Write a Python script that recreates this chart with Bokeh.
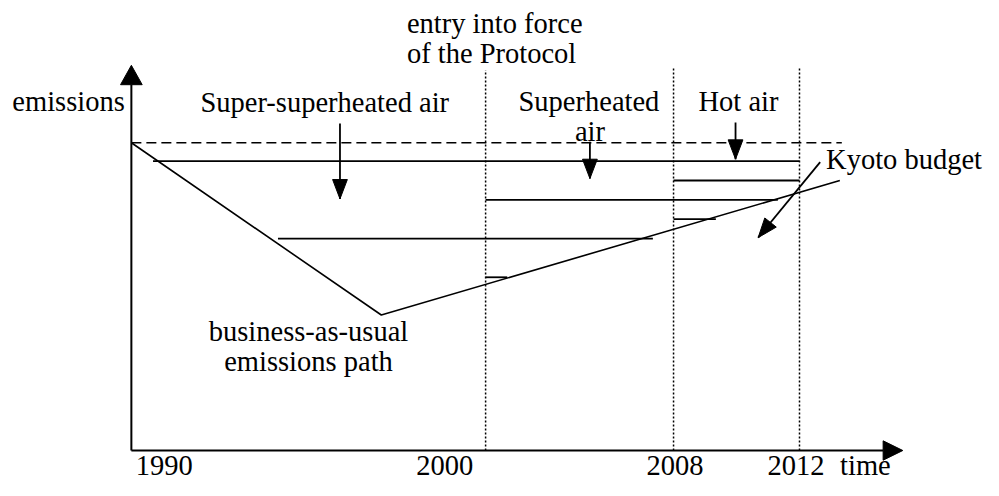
import numpy as np
from bokeh.plotting import figure
from bokeh.models import Range1d, ColumnDataSource
from bokeh.core.properties import value
from bokeh.embed import file_html
from bokeh.resources import INLINE

# ---- schematic data (x: position right of the emissions axis, y: emissions level above time axis)
base_level = 318                      # 1990 emissions level (dashed reference)
base_end = 722
period_labels = ["1990", "2000", "2008", "2012"]
label_x = [33.5, 318.5, 552.5, 675.5]
label_y = -15
boundary_x = [360, 551, 679]          # 2000 (entry into force), 2008, 2012
boundary_top = [393, 396, 396]

bau_x = [0, 254, 720]                 # business-as-usual emissions path
bau_y = [318, 140, 279]

budget_y = [299, 279, 259, 239, 219, 179]       # Kyoto budget staircase
budget_x0 = [22, 551, 360, 551, 149, 360]
budget_x1 = [679, 679, 657, 594, 530, 382]

arrow_x0 = [212, 466, 614, 700]
arrow_y0 = [338, 319, 339, 298]
arrow_x1 = [212, 466, 614, 637]
arrow_y1 = [260, 281, 301, 220]

axis_len_y, axis_tip_y = 378, 398
axis_len_x, axis_tip_x = 764, 784

texts = ["emissions", "Super-superheated air", "Superheated", "air", "Hot air",
         "Kyoto budget", "entry into force", "of the Protocol",
         "business-as-usual", "emissions path", "time"]
text_x = [-121, 196.5, 465, 466, 617, 706, 280, 280, 180, 180, 746]
text_y = [361, 360, 361, 330, 361, 301, 441, 410, 123, 92, -15]
text_align = ["left", "center", "center", "center", "center", "left",
              "left", "left", "center", "center", "center"]

FONT = value("Liberation Serif")
FSIZE = value("28.5px")

p = figure(width=983, height=480, output_backend="svg", toolbar_location=None,
           x_range=Range1d(-133, 866), y_range=Range1d(-31, 465),
           x_axis_location=None, y_axis_location=None, min_border=0)
p.grid.visible = False
p.outline_line_color = None
p.background_fill_color = "white"
p.border_fill_color = "white"


def head(x0, y0, x1, y1, length, half):
    d = np.array([x1 - x0, y1 - y0], dtype=float)
    d /= np.hypot(*d)
    n = np.array([-d[1], d[0]])
    tip = np.array([x1, y1], dtype=float)
    base = tip - d * length
    a = base + n * half
    b = base - n * half
    return [tip[0], a[0], b[0]], [tip[1], a[1], b[1]]


# axes with arrowheads
p.segment(x0=[0, 0], y0=[0, 0], x1=[0, axis_len_x], y1=[axis_len_y, 0],
          line_color="black", line_width=2)
hx1, hy1 = head(0, 0, 0, axis_tip_y, 20, 11)
hx2, hy2 = head(0, 0, axis_tip_x, 0, 20, 10)
p.patches(xs=[hx1, hx2], ys=[hy1, hy2], fill_color="black", line_color="black")

# dotted period boundaries
p.segment(x0=boundary_x, y0=[0] * len(boundary_x), x1=boundary_x, y1=boundary_top,
          line_color="black", line_width=1.5, line_dash="2 2")

# 1990 emissions level
p.line(x=[0, base_end], y=[base_level, base_level], line_color="black",
       line_width=1.7, line_dash="10 5")

# business-as-usual path
p.line(x=bau_x, y=bau_y, line_color="black", line_width=1.6)

# Kyoto budget staircase
p.segment(x0=budget_x0, y0=budget_y, x1=budget_x1, y1=budget_y,
          line_color="black", line_width=1.8)

# annotation arrows
p.segment(x0=arrow_x0, y0=arrow_y0, x1=arrow_x1, y1=arrow_y1,
          line_color="black", line_width=1.8)
hxs, hys = [], []
for a, b, c, d in zip(arrow_x0, arrow_y0, arrow_x1, arrow_y1):
    hx, hy = head(a, b, c, d, 20, 7.5)
    hxs.append(hx)
    hys.append(hy)
p.patches(xs=hxs, ys=hys, fill_color="black", line_color="black")

# period labels under time axis
p.text(x=label_x, y=[label_y] * len(label_x), text=period_labels, text_font=FONT,
       text_font_size=FSIZE, text_align="center", text_baseline="alphabetic",
       text_color="black")

# annotation texts
src = ColumnDataSource(dict(x=text_x, y=text_y, t=texts, a=text_align))
p.text(x="x", y="y", text="t", text_align="a", source=src, text_font=FONT,
       text_font_size=FSIZE, text_baseline="alphabetic", text_color="black")

open("out.html", "w").write(file_html(p, INLINE))
